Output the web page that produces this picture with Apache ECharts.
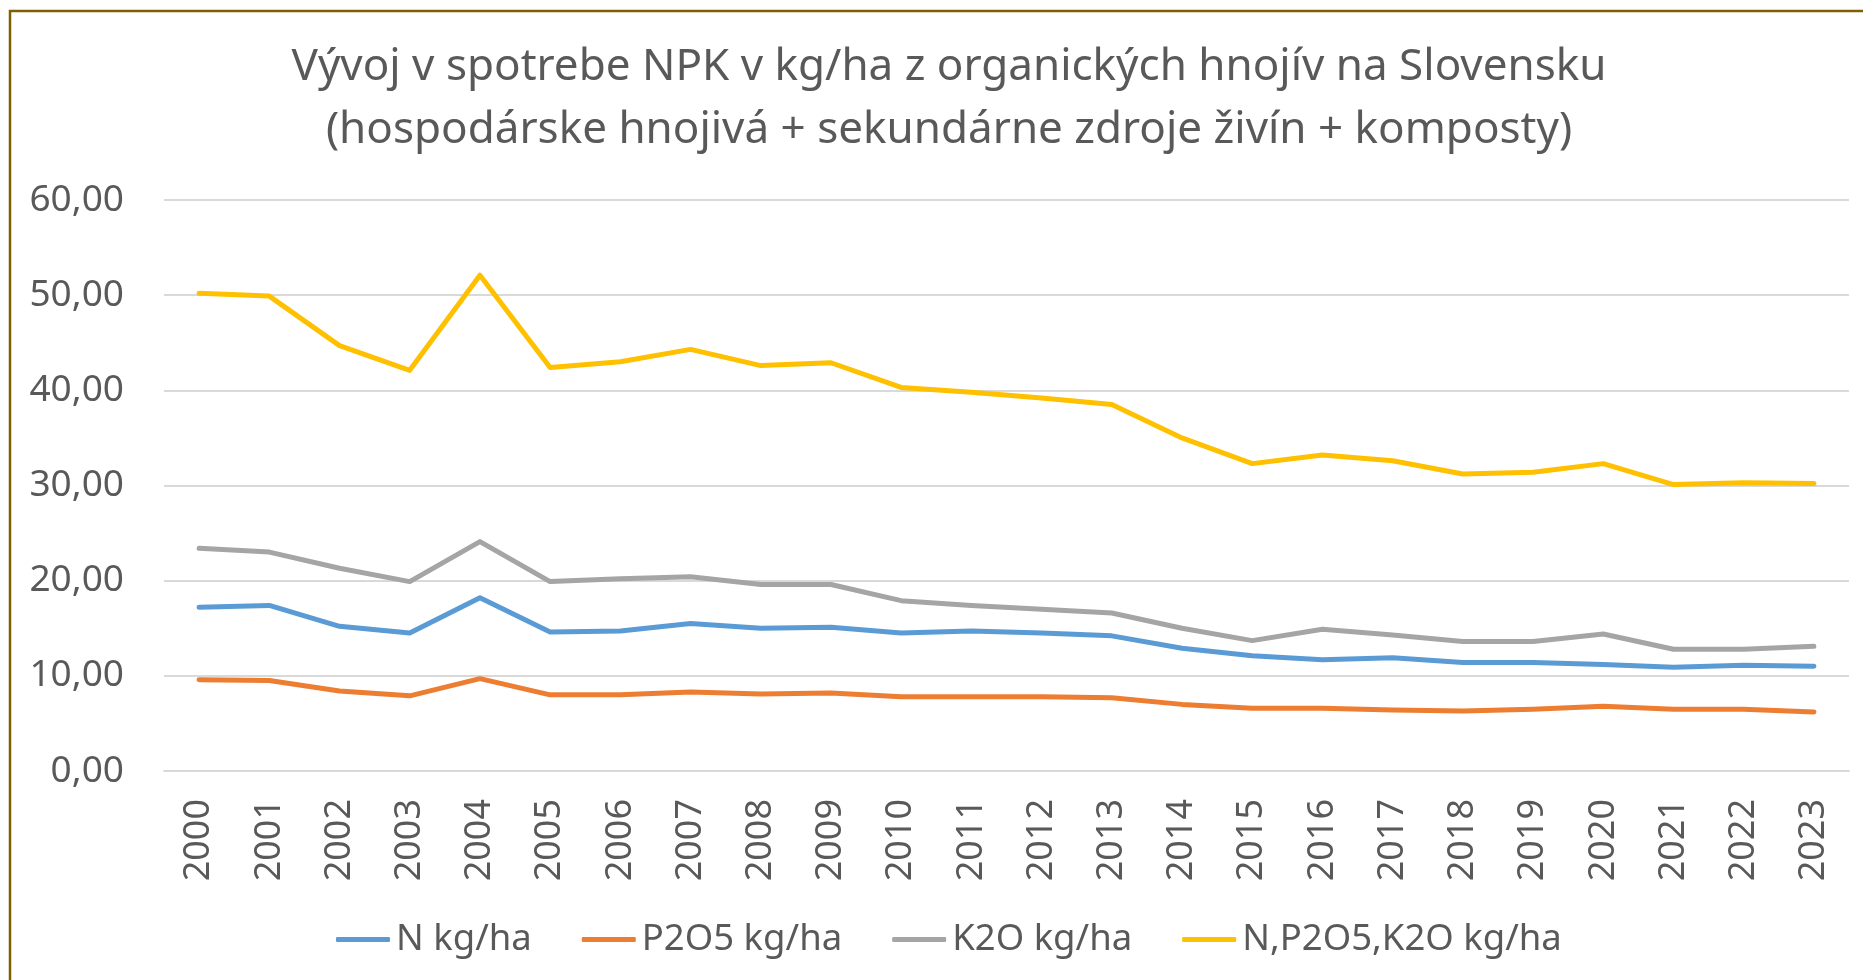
<!DOCTYPE html>
<html>
<head>
<meta charset="utf-8">
<script src="https://cdn.jsdelivr.net/npm/echarts@6/dist/echarts.min.js"></script>
<style>
  html, body { margin: 0; padding: 0; background: #fff; }
  #chart { width: 1863px; height: 980px; }
</style>
</head>
<body>
<div id="chart"></div>
<script>
const years = ['2000', '2001', '2002', '2003', '2004', '2005', '2006', '2007', '2008', '2009', '2010', '2011',
  '2012', '2013', '2014', '2015', '2016', '2017', '2018', '2019', '2020', '2021', '2022', '2023']
const nKgHa = [17.2, 17.4, 15.2, 14.5, 18.2, 14.6, 14.7, 15.5, 15.0, 15.1, 14.5, 14.7,
  14.5, 14.2, 12.9, 12.1, 11.7, 11.9, 11.4, 11.4, 11.2, 10.9, 11.1, 11.0]
const p2o5KgHa = [9.6, 9.5, 8.4, 7.9, 9.7, 8.0, 8.0, 8.3, 8.1, 8.2, 7.8, 7.8,
  7.8, 7.7, 7.0, 6.6, 6.6, 6.4, 6.3, 6.5, 6.8, 6.5, 6.5, 6.2]
const k2oKgHa = [23.4, 23.0, 21.3, 19.9, 24.1, 19.9, 20.2, 20.4, 19.6, 19.6, 17.9, 17.4,
  17.0, 16.6, 15.0, 13.7, 14.9, 14.3, 13.6, 13.6, 14.4, 12.8, 12.8, 13.1]
const npkKgHa = [50.2, 49.9, 44.7, 42.1, 52.1, 42.4, 43.0, 44.3, 42.6, 42.9, 40.3, 39.8,
  39.2, 38.5, 35.0, 32.3, 33.2, 32.6, 31.2, 31.4, 32.3, 30.1, 30.3, 30.2]
const seriesNames = ['N kg/ha', 'P2O5 kg/ha', 'K2O kg/ha', 'N,P2O5,K2O kg/ha']
const colors = ['#5B9BD5', '#ED7D31', '#A5A5A5', '#FFC000']

const font = '"Noto Sans", "DejaVu Sans", sans-serif'
const textColor = '#595959'

const chart = echarts.init(document.getElementById('chart'))

function makeLine(name, data, color) {
  return {
    name: name,
    type: 'line',
    data: data,
    symbol: 'none',
    color: color,
    lineStyle: { color: color, width: 5, cap: 'round', join: 'round' },
  }
}

chart.setOption({
  animation: false,
  textStyle: { fontFamily: font },
  title: {
    text: 'Vývoj v spotrebe NPK v kg/ha z organických hnojív na Slovensku\n(hospodárske hnojivá + sekundárne zdroje živín + komposty)',
    left: 944,
    textAlign: 'center',
    top: 31,
    textStyle: {
      fontFamily: font,
      fontSize: 44,
      fontWeight: 'normal',
      color: textColor,
      lineHeight: 63,
    },
  },
  legend: {
    bottom: 22,
    left: 336,
    padding: 0,
    icon: 'roundRect',
    itemWidth: 54,
    itemHeight: 5,
    itemGap: 50,
    textStyle: { fontFamily: font, fontSize: 36.5, color: textColor, padding: [0, 0, 0, 1] },
    data: seriesNames,
  },
  grid: {
    left: 164,
    right: 14,
    top: 200,
    bottom: 209,
    containLabel: false,
  },
  xAxis: {
    type: 'category',
    data: years,
    boundaryGap: true,
    axisLine: { show: true, lineStyle: { color: '#D9D9D9', width: 2 } },
    axisTick: { show: false },
    axisLabel: {
      rotate: 90,
      margin: 28,
      fontSize: 36,
      color: textColor,
      fontFamily: font,
      interval: 0,
    },
  },
  yAxis: {
    type: 'value',
    min: 0,
    max: 60,
    interval: 10,
    axisLine: { show: false },
    axisTick: { show: false },
    splitLine: { lineStyle: { color: '#D9D9D9', width: 2 } },
    axisLabel: {
      margin: 40,
      fontSize: 37,
      color: textColor,
      fontFamily: font,
      formatter: (v) => v.toFixed(2).replace('.', ','),
    },
  },
  graphic: [
    {
      type: 'rect',
      shape: { x: 10, y: 11, width: 2000, height: 2000 },
      style: { fill: 'none', stroke: '#7F6000', lineWidth: 2.5 },
      silent: true,
    },
  ],
  series: [
    makeLine(seriesNames[0], nKgHa, colors[0]),
    makeLine(seriesNames[1], p2o5KgHa, colors[1]),
    makeLine(seriesNames[2], k2oKgHa, colors[2]),
    makeLine(seriesNames[3], npkKgHa, colors[3]),
  ],
})
</script>
</body>
</html>
